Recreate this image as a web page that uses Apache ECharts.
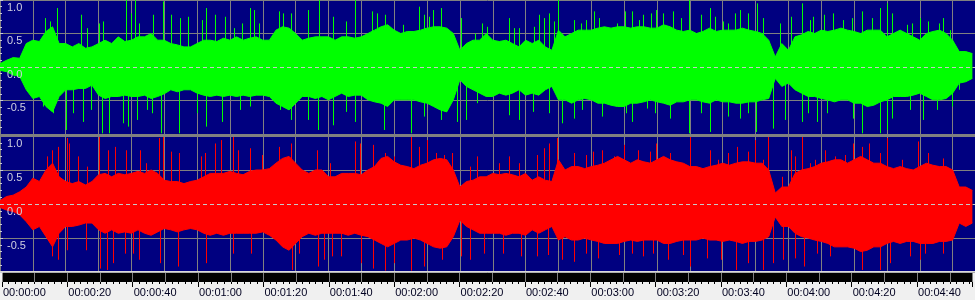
<!DOCTYPE html>
<html>
<head>
<meta charset="utf-8">
<script src="https://cdn.jsdelivr.net/npm/echarts@6/dist/echarts.min.js"></script>
<style>
html,body{margin:0;padding:0;background:#f0f0f0;}
#chart{width:975px;height:300px;}
</style>
</head>
<body>
<div id="chart"></div>
<script>
// Body envelope, one value every 2 seconds (t = 0, 2, 4, ... 296 s)
const greenTop = [
 0.05,0.10,0.14,0.13,0.35,0.40,0.38,0.53,0.60,0.35,
 0.35,0.30,0.35,0.28,0.30,0.35,0.40,0.35,0.45,0.38,
 0.40,0.45,0.45,0.50,0.40,0.40,0.35,0.33,0.30,0.30,
 0.35,0.40,0.40,0.38,0.43,0.40,0.45,0.40,0.43,0.45,
 0.40,0.40,0.55,0.60,0.58,0.50,0.40,0.43,0.45,0.45,
 0.45,0.40,0.45,0.45,0.43,0.45,0.50,0.55,0.60,0.63,
 0.55,0.50,0.53,0.53,0.55,0.58,0.60,0.60,0.58,0.50,
 0.25,0.35,0.40,0.40,0.50,0.40,0.38,0.40,0.35,0.30,
 0.40,0.35,0.40,0.30,0.25,0.55,0.45,0.50,0.55,0.55,
 0.55,0.58,0.60,0.58,0.60,0.60,0.58,0.60,0.60,0.58,
 0.58,0.63,0.60,0.55,0.53,0.55,0.50,0.53,0.58,0.53,
 0.55,0.55,0.55,0.58,0.55,0.53,0.50,0.40,0.15,0.35,
 0.25,0.45,0.48,0.53,0.50,0.55,0.53,0.55,0.58,0.55,
 0.53,0.50,0.55,0.55,0.55,0.45,0.50,0.55,0.50,0.45,
 0.40,0.50,0.53,0.55,0.50,0.40,0.23,0.23,0.20];
const greenBottom = [
 -0.05,-0.07,-0.12,-0.14,-0.34,-0.47,-0.44,-0.59,-0.67,-0.44,
 -0.34,-0.34,-0.32,-0.32,-0.27,-0.42,-0.47,-0.44,-0.44,-0.42,
 -0.44,-0.44,-0.42,-0.47,-0.44,-0.40,-0.34,-0.37,-0.34,-0.34,
 -0.39,-0.42,-0.44,-0.42,-0.44,-0.42,-0.44,-0.42,-0.44,-0.42,
 -0.42,-0.44,-0.54,-0.59,-0.64,-0.54,-0.44,-0.44,-0.47,-0.44,
 -0.49,-0.44,-0.39,-0.44,-0.42,-0.42,-0.49,-0.52,-0.54,-0.59,
 -0.49,-0.49,-0.49,-0.49,-0.52,-0.54,-0.59,-0.64,-0.67,-0.49,
 -0.19,-0.29,-0.34,-0.39,-0.44,-0.44,-0.39,-0.42,-0.39,-0.34,
 -0.42,-0.39,-0.42,-0.34,-0.29,-0.49,-0.49,-0.54,-0.49,-0.47,
 -0.49,-0.54,-0.54,-0.57,-0.59,-0.59,-0.54,-0.54,-0.52,-0.49,
 -0.52,-0.54,-0.57,-0.52,-0.52,-0.49,-0.49,-0.52,-0.54,-0.49,
 -0.52,-0.52,-0.54,-0.54,-0.52,-0.52,-0.49,-0.47,-0.17,-0.29,
 -0.24,-0.34,-0.39,-0.44,-0.44,-0.47,-0.49,-0.52,-0.49,-0.49,
 -0.54,-0.54,-0.59,-0.57,-0.52,-0.49,-0.44,-0.44,-0.44,-0.42,
 -0.39,-0.44,-0.49,-0.49,-0.47,-0.39,-0.24,-0.22,-0.17];
const redTop = [
 0.05,0.11,0.13,0.18,0.25,0.38,0.33,0.50,0.60,0.40,
 0.33,0.30,0.33,0.28,0.33,0.43,0.45,0.40,0.45,0.43,
 0.45,0.48,0.45,0.50,0.45,0.35,0.33,0.33,0.30,0.33,
 0.35,0.40,0.45,0.45,0.45,0.48,0.45,0.43,0.48,0.50,
 0.50,0.52,0.60,0.67,0.70,0.60,0.50,0.45,0.50,0.50,
 0.40,0.40,0.45,0.45,0.45,0.43,0.50,0.55,0.67,0.70,
 0.62,0.57,0.55,0.52,0.57,0.60,0.65,0.67,0.65,0.50,
 0.25,0.33,0.35,0.40,0.40,0.45,0.43,0.45,0.43,0.40,
 0.45,0.35,0.40,0.35,0.33,0.65,0.50,0.55,0.55,0.52,
 0.55,0.57,0.60,0.65,0.70,0.65,0.60,0.65,0.62,0.60,
 0.65,0.70,0.65,0.62,0.60,0.55,0.55,0.52,0.55,0.57,
 0.60,0.57,0.60,0.62,0.62,0.60,0.60,0.50,0.16,0.25,
 0.25,0.45,0.50,0.52,0.55,0.60,0.62,0.65,0.65,0.60,
 0.65,0.70,0.65,0.60,0.60,0.55,0.52,0.55,0.52,0.50,
 0.55,0.60,0.57,0.55,0.55,0.50,0.25,0.25,0.20];
const redBottom = [
 -0.05,-0.09,-0.11,-0.16,-0.26,-0.38,-0.33,-0.48,-0.63,-0.43,
 -0.33,-0.33,-0.31,-0.28,-0.28,-0.38,-0.43,-0.38,-0.43,-0.41,
 -0.43,-0.38,-0.43,-0.46,-0.41,-0.36,-0.38,-0.41,-0.38,-0.36,
 -0.38,-0.43,-0.46,-0.43,-0.46,-0.43,-0.43,-0.43,-0.43,-0.43,
 -0.41,-0.46,-0.53,-0.63,-0.68,-0.58,-0.48,-0.43,-0.46,-0.43,
 -0.43,-0.43,-0.43,-0.46,-0.43,-0.46,-0.48,-0.53,-0.58,-0.63,
 -0.58,-0.53,-0.53,-0.50,-0.53,-0.58,-0.63,-0.65,-0.63,-0.48,
 -0.24,-0.33,-0.38,-0.43,-0.43,-0.43,-0.43,-0.46,-0.43,-0.43,
 -0.46,-0.38,-0.43,-0.38,-0.33,-0.53,-0.48,-0.53,-0.53,-0.50,
 -0.53,-0.55,-0.58,-0.58,-0.58,-0.55,-0.53,-0.55,-0.53,-0.53,
 -0.53,-0.58,-0.58,-0.55,-0.53,-0.53,-0.53,-0.50,-0.53,-0.53,
 -0.55,-0.53,-0.55,-0.58,-0.55,-0.55,-0.53,-0.48,-0.19,-0.33,
 -0.33,-0.43,-0.48,-0.50,-0.53,-0.55,-0.58,-0.63,-0.63,-0.63,
 -0.65,-0.70,-0.68,-0.63,-0.63,-0.58,-0.55,-0.58,-0.55,-0.55,
 -0.58,-0.58,-0.58,-0.55,-0.55,-0.53,-0.28,-0.33,-0.28];

// Isolated peaks: [time in s, amplitude]
const greenSpikes = [
 [13.7,0.73],[15.2,0.68],[17.5,0.88],[24.7,0.78],[26.6,0.58],[30.2,0.65],[31.5,0.68],[38.4,1.0],[39.8,0.80],[41.1,1.0],[42.4,0.65],[46.7,0.78],[49.7,0.98],
 [13.2,-0.59],[16.2,-0.69],[20.0,-0.94],[22.1,-0.69],[25.2,-0.82],[27.6,-0.64],[31.1,-0.99],[33.3,-0.99],[37.3,-0.84],[39.0,-0.89],[41.8,-0.79],[44.6,-0.64],[46.3,-0.69],[48.9,-0.99],
 [52.1,0.78],[54.9,0.73],[57.2,0.75],[61.5,0.70],[62.8,0.88],[65.3,0.78],[68.6,0.75],[71.1,0.58],[73.7,0.65],[76.2,0.88],[77.4,0.85],[78.7,0.65],[84.8,0.83],[86.3,0.80],[88.7,0.80],[93.9,0.85],[97.0,1.0],
 [54.4,-0.99],[60.0,-0.69],[62.8,-0.89],[67.6,-0.82],[73.1,-0.64],[76.2,-0.59],[85.3,-0.64],[88.7,-0.79],[93.7,-0.79],[96.8,-0.94],
 [101.4,0.75],[105.2,0.68],[108.0,1.0],[113.3,0.83],[114.8,0.80],[117.1,0.78],[122.8,0.63],[127.5,0.90],[129.0,0.78],[130.6,0.75],[131.9,0.85],[134.1,0.88],[140.2,0.73],[144.5,0.50],[146.8,0.65],[148.3,0.60],
 [101.4,-0.87],[105.2,-0.67],[108.2,-0.82],[116.9,-0.94],[125.2,-0.99],[129.0,-0.74],[134.3,-0.79],[139.2,-0.82],[142.0,-0.79],[145.3,-0.54],
 [155.0,0.73],[156.5,0.58],[158.0,0.58],[162.6,0.60],[164.1,0.78],[165.7,0.73],[167.2,0.80],[168.7,0.68],[170.0,1.0],[174.8,0.70],[176.8,0.65],[178.3,0.70],[180.9,0.83],[182.4,0.73],[187.7,0.65],[190.3,0.83],[192.5,0.83],[194.6,0.70],[195.6,0.78],
 [155.0,-0.72],[158.0,-0.79],[162.1,-0.67],[167.0,-0.69],[171.2,-0.84],[174.8,-0.77],[177.3,-0.64],[183.4,-0.74],[190.5,-0.69],[192.5,-0.82],[197.1,-0.62],
 [198.3,0.80],[199.8,0.85],[201.9,0.80],[204.9,0.83],[207.4,0.73],[209.7,1.0],[213.5,0.78],[216.1,0.88],[217.6,0.75],[220.1,0.68],[221.7,0.65],[223.7,0.80],[225.2,0.85],[227.7,0.80],[230.3,0.95],[232.3,0.73],[237.4,0.65],[240.9,0.75],[244.0,0.95],[246.5,0.70],
 [199.3,-0.69],[203.9,-0.77],[209.7,-0.99],[213.5,-0.69],[216.1,-0.97],[221.7,-0.74],[225.2,-0.77],[227.7,-0.69],[230.0,-0.97],[235.4,-0.92],[238.9,-0.79],[244.0,-0.82],[246.0,-0.69],
 [247.6,0.75],[250.7,0.78],[253.7,0.80],[256.7,0.70],[259.3,0.73],[262.3,0.83],[265.4,0.73],[267.9,0.88],[269.9,0.95],[271.5,0.80],[276.0,0.63],[277.5,0.65],[280.1,0.73],[282.6,0.68],[285.7,0.65],[287.2,0.73],[289.2,0.55],
 [248.6,-0.82],[251.7,-0.69],[259.8,-0.77],[262.5,-0.99],[267.9,-0.99],[269.9,-0.94],[271.5,-0.77],[277.0,-0.64],[280.9,-0.79],[285.2,-0.64],[289.7,-0.59],[291.8,-0.34]];
const redSpikes = [
 [14.2,0.70],[15.7,0.79],[17.8,0.84],[20.3,0.97],[20.9,0.89],[23.6,0.70],[26.4,0.55],[30.2,0.99],[33.0,0.79],[35.0,0.84],[38.4,0.79],[42.6,0.79],[44.4,0.60],[48.5,0.97],[49.7,0.99],
 [15.7,-0.77],[17.8,-0.82],[20.3,-0.68],[26.2,-0.68],[30.4,-0.95],[32.5,-0.97],[34.5,-0.87],[38.1,-0.73],[40.6,-0.73],[42.4,-0.82],[48.7,-0.87],
 [52.1,0.77],[54.4,0.75],[61.3,0.70],[62.5,0.75],[65.5,0.89],[67.4,0.94],[71.0,0.99],[72.4,0.79],[76.2,0.82],[79.7,0.72],[84.8,0.84],[88.7,0.89],[96.5,0.79],
 [54.2,-0.92],[62.7,-0.87],[70.8,-0.73],[76.5,-0.73],[88.9,-0.97],[90.9,-0.73],[96.8,-0.92],[98.5,-0.82],
 [100.6,0.60],[108.2,0.92],[109.6,0.89],[113.6,0.87],[117.1,0.75],[119.9,0.70],[125.2,0.99],[127.5,0.84],[129.9,0.94],[132.6,0.75],[135.1,0.72],[137.5,0.75],[143.2,0.55],[145.1,0.70],
 [101.1,-0.77],[103.9,-0.77],[109.8,-0.87],[113.6,-0.95],[117.1,-0.98],[119.9,-0.87],[125.2,-0.98],[129.2,-0.92],[134.6,-0.82],[140.2,-0.77],[143.2,-0.82],[147.3,-0.73],
 [152.0,0.60],[155.0,0.70],[158.0,0.60],[163.6,0.72],[165.7,0.82],[167.2,0.89],[169.7,0.97],[174.8,0.75],[178.3,0.72],[180.4,0.77],[183.4,0.79],[187.0,0.70],[190.0,0.87],[194.1,0.79],
 [153.0,-0.73],[158.6,-0.77],[163.6,-0.77],[166.7,-0.75],[171.0,-0.82],[174.8,-0.85],[178.3,-0.73],[181.9,-0.80],[188.5,-0.75],[192.5,-0.73],[195.6,-0.77],
 [197.8,0.77],[199.8,0.89],[203.9,0.75],[210.0,0.99],[216.1,0.79],[218.6,0.65],[221.7,0.75],[224.2,0.84],[227.7,0.77],[229.8,0.94],[232.3,0.65],[233.8,0.99],[237.9,0.40],[240.7,0.79],[242.0,0.70],[244.2,0.99],[246.5,0.60],
 [198.8,-0.73],[203.4,-0.82],[208.0,-0.75],[210.0,-0.92],[215.1,-0.80],[219.6,-0.82],[223.9,-0.97],[227.7,-0.87],[232.3,-0.97],[235.4,-0.87],[238.4,-0.82],[242.0,-0.80],[244.8,-0.92],
 [248.1,0.65],[251.2,0.79],[254.2,0.70],[257.3,0.72],[259.8,0.89],[262.3,0.84],[264.4,0.89],[267.9,0.75],[270.1,0.97],[274.5,0.65],[279.6,0.92],[282.6,0.75],[287.2,0.67],
 [248.6,-0.73],[252.7,-0.77],[262.3,-0.97],[267.9,-0.97],[271.0,-0.87],[277.0,-0.77],[280.1,-0.82],[281.6,-0.73],[287.2,-0.73]];

const timeTickLabels = ['00:00:00','00:00:20','00:00:40','00:01:00','00:01:20','00:01:40','00:02:00',
 '00:02:20','00:02:40','00:03:00','00:03:20','00:03:40','00:04:00','00:04:20','00:04:40'];
const ampTickLabels = {'1':'1.0','0.5':'0.5','0':'0.0','-0.5':'-0.5'};

const DURATION = 296.8;
const STEP = 2;

function pairs(arr){ return arr.map((v,i)=>[i*STEP, v]); }

function spikeRenderer(color){
  return function(params, api){
    const t = api.value(0), v = api.value(1);
    const p0 = api.coord([t, 0]);
    const p1 = api.coord([t, v]);
    const x = Math.round(p0[0]) + 0.5;
    return {type:'line', shape:{x1:x, y1:p0[1], x2:x, y2:p1[1]},
      style:{stroke:color, lineWidth:1}};
  };
}

const chart = echarts.init(document.getElementById('chart'), null, {renderer:'canvas'});

function gridX(idx){
  return {type:'value', gridIndex:idx, min:0, max:DURATION, interval:10, position:'bottom',
    axisLine:{show:false}, axisTick:{show:false}, axisLabel:{show:false},
    splitLine:{show:true, lineStyle:{color:'#808080', width:1}}};
}
function gridY(idx){
  return {type:'value', gridIndex:idx, min:-1, max:1, interval:0.5, position:'left',
    axisLine:{show:false}, axisTick:{show:false}, axisLabel:{show:false},
    splitLine:{show:true, lineStyle:{color:'#808080', width:1}}};
}
function labelY(idx){
  return {type:'value', gridIndex:idx, min:-1, max:1, interval:0.5, z:10, position:'left', offset:0,
    axisLine:{show:false, onZero:false},
    axisTick:{show:true, inside:true, length:3, lineStyle:{color:'#c8c8d8'}},
    minorTick:{show:true, splitNumber:5, length:2, lineStyle:{color:'#c8c8d8'}},
    splitLine:{show:false},
    axisLabel:{show:true, inside:true, margin:7, align:'left', verticalAlign:'top',
      padding:[2,0,0,0], showMinLabel:false, color:'#d0d0e0', fontSize:11,
      fontFamily:'Liberation Sans',
      formatter:function(v){ const k = String(Math.round(v*10)/10); return ampTickLabels[k] || ''; }}};
}

const zeroLine = {silent:true, symbol:'none', label:{show:false},
  lineStyle:{color:'#c8c8c8', type:[4,3], width:1}, data:[{yAxis:0}]};

chart.setOption({
  animation:false,
  backgroundColor:'#f0f0f0',
  grid:[
    {left:0, right:0, top:0, height:134, show:true, backgroundColor:'#000080', borderWidth:0},
    {left:0, right:0, top:136, height:136, show:true, backgroundColor:'#000080', borderWidth:0},
    {left:0, right:0, top:272, height:10, show:true, backgroundColor:'#000000', borderWidth:0}
  ],
  xAxis:[
    gridX(0), gridX(1), gridX(2),
    {type:'value', gridIndex:2, min:0, max:DURATION, interval:20, position:'bottom',
      axisLine:{show:false},
      axisTick:{show:true, length:5, lineStyle:{color:'#000'}},
      minorTick:{show:true, splitNumber:10, length:2, lineStyle:{color:'#000'}},
      splitLine:{show:false},
      axisLabel:{show:true, margin:5, align:'left', padding:[0,0,0,1], color:'#000020', fontSize:11,
        fontFamily:'Liberation Sans',
        formatter:function(v){ if (Math.abs(v/20 - Math.round(v/20))>1e-6) return ''; return timeTickLabels[Math.round(v/20)] || ''; }}}
  ],
  yAxis:[
    gridY(0), labelY(0), gridY(1), labelY(1),
    {type:'value', gridIndex:2, min:0, max:1, show:false, position:'left'}
  ],
  graphic:[
    {type:'rect', shape:{x:0, y:134, width:975, height:3}, style:{fill:'#808080'}, z:100},
    {type:'rect', shape:{x:0, y:271, width:975, height:1.5}, style:{fill:'#d8d8d8'}, z:100}
  ],
  series:[
    {type:'line', xAxisIndex:0, yAxisIndex:0, data:pairs(greenTop), symbol:'none', z:2,
      lineStyle:{color:'#00ff00', width:1}, areaStyle:{color:'#00ff00', opacity:1}},
    {type:'line', xAxisIndex:0, yAxisIndex:0, data:pairs(greenBottom), symbol:'none', z:2,
      lineStyle:{color:'#00ff00', width:1}, areaStyle:{color:'#00ff00', opacity:1}},
    {type:'custom', xAxisIndex:0, yAxisIndex:0, data:greenSpikes, z:3, clip:true,
      renderItem:spikeRenderer('#00ff00'), markLine:zeroLine},
    {type:'line', xAxisIndex:1, yAxisIndex:2, data:pairs(redTop), symbol:'none', z:2,
      lineStyle:{color:'#ff0000', width:1}, areaStyle:{color:'#ff0000', opacity:1}},
    {type:'line', xAxisIndex:1, yAxisIndex:2, data:pairs(redBottom), symbol:'none', z:2,
      lineStyle:{color:'#ff0000', width:1}, areaStyle:{color:'#ff0000', opacity:1}},
    {type:'custom', xAxisIndex:1, yAxisIndex:2, data:redSpikes, z:3, clip:true,
      renderItem:spikeRenderer('#ff0000'), markLine:zeroLine}
  ]
});
</script>
</body>
</html>
